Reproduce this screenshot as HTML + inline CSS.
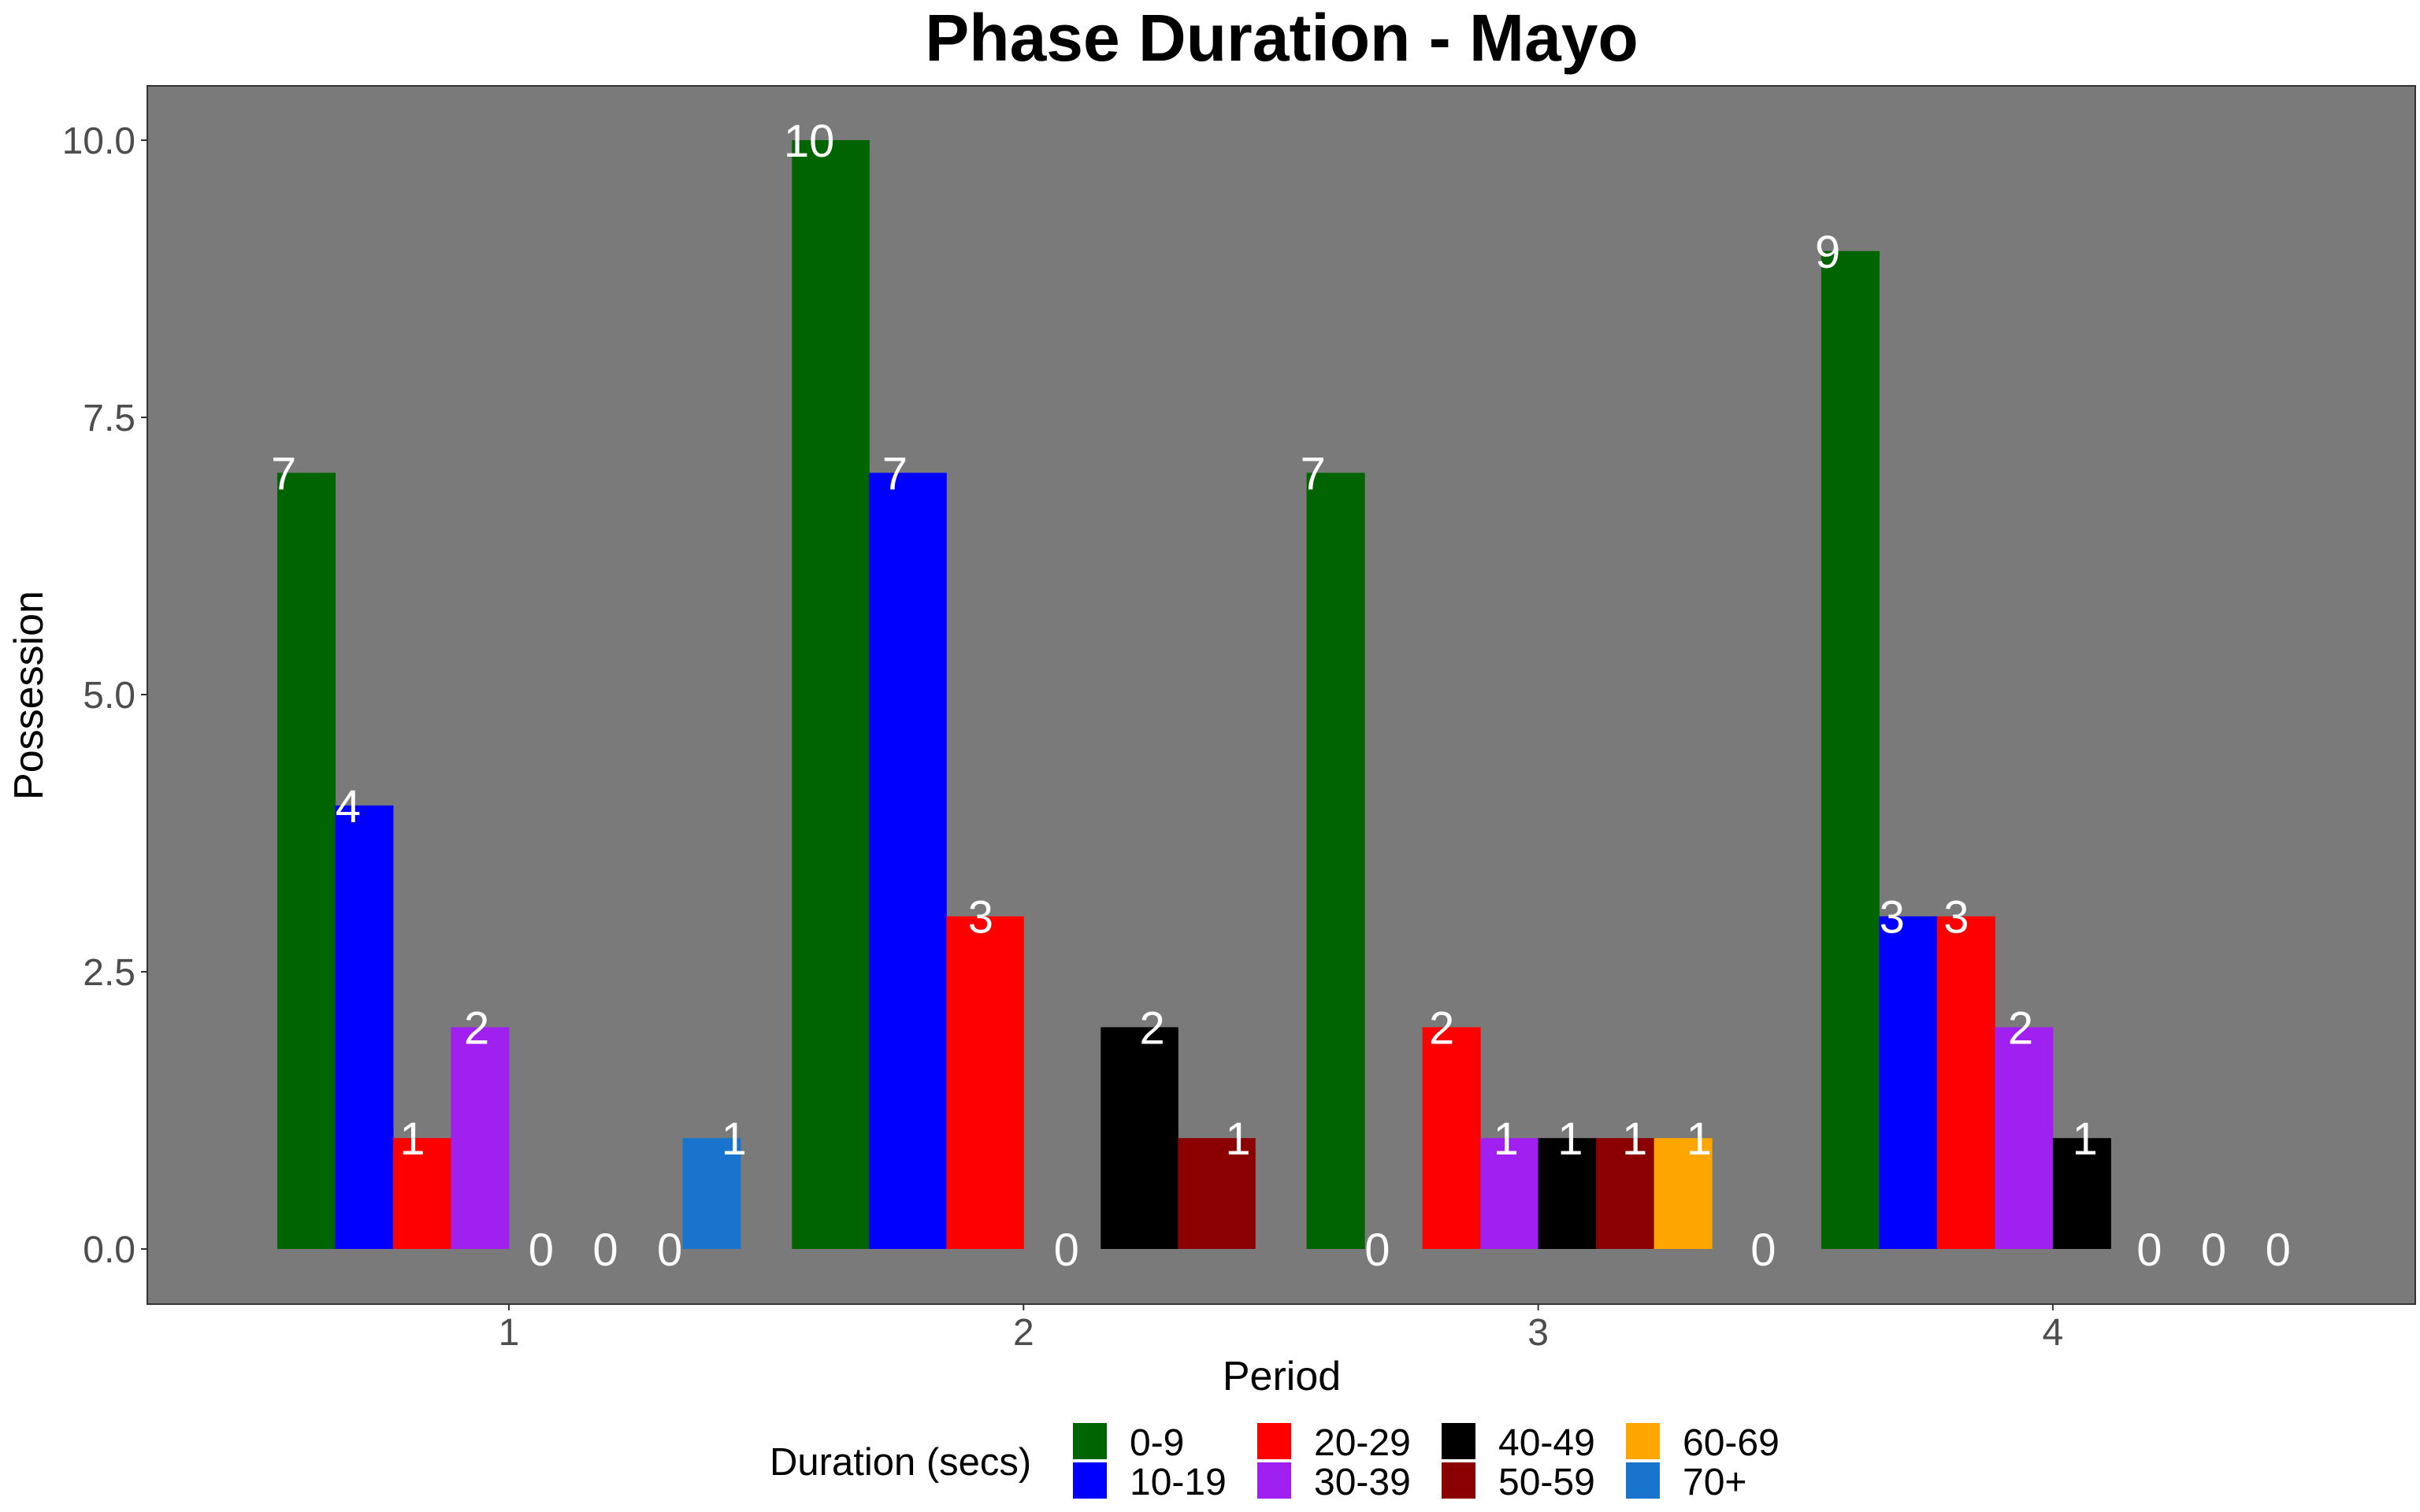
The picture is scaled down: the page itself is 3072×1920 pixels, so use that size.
<!DOCTYPE html>
<html><head><meta charset="utf-8"><style>
html,body{margin:0;padding:0;background:#fff;}
svg{display:block;font-family:"Liberation Sans",Arial,sans-serif;}
</style></head><body>
<svg id="chart" width="3072" height="1920" viewBox="0 0 3072 1920" xmlns="http://www.w3.org/2000/svg">
<rect x="0" y="0" width="3072" height="1920" fill="#fff"/>
<text x="1627" y="77" text-anchor="middle" font-size="84" font-weight="bold" fill="#000">Phase Duration - Mayo</text>
<rect x="187" y="109" width="2879" height="1547" fill="#7a7a7a" stroke="#333" stroke-width="2"/>
<g id="yaxis"></g>
<g id="xaxis"></g>
<g id="bars"></g>
<g id="labels"></g>
<text x="1627" y="1765" text-anchor="middle" font-size="52" fill="#000">Period</text>
<text transform="translate(54,883) rotate(-90)" text-anchor="middle" font-size="52" fill="#000">Possession</text>
<g id="legend">
<text x="977" y="1873" font-size="49" fill="#000">Duration (secs)</text>
</g>
</svg>
<script>
const periods = ["1","2","3","4"];
const durations = ["0-9","10-19","20-29","30-39","40-49","50-59","60-69","70+"];
const colors = ["#006400","#0000ff","#ff0000","#a020f0","#000000","#8b0000","#ffa500","#1874cd"];
// per-period categories present (in order) and their values
const period1Cats = ["0-9","10-19","20-29","30-39","40-49","50-59","60-69","70+"];
const period1Vals = [7,4,1,2,0,0,0,1];
const period2Cats = ["0-9","10-19","20-29","30-39","40-49","50-59"];
const period2Vals = [10,7,3,0,2,1];
const period3Cats = ["0-9","10-19","20-29","30-39","40-49","50-59","60-69","70+"];
const period3Vals = [7,0,2,1,1,1,1,0];
const period4Cats = ["0-9","10-19","20-29","30-39","40-49","50-59","60-69","70+"];
const period4Vals = [9,3,3,2,1,0,0,0];
const yTicks = [0,2.5,5,7.5,10];
const yTickLabels = ["0.0","2.5","5.0","7.5","10.0"];

const NS="http://www.w3.org/2000/svg";
function mk(tag,attrs,parent){const e=document.createElementNS(NS,tag);for(const k in attrs)e.setAttribute(k,attrs[k]);parent.appendChild(e);return e;}
const Y0=1586, PXU=140.8;
function yScale(v){return Y0-v*PXU;}
const X1=646, XSTEP=653.3;
function xScale(i){return X1+i*XSTEP;}

const yg=document.getElementById('yaxis');
yTicks.forEach((t,i)=>{
  const y=yScale(t);
  const l=mk('line',{x1:179,x2:187,y1:y,y2:y,stroke:'#333','stroke-width':2},yg);
  
  
  const tx=mk('text',{x:172,y:y+17,'text-anchor':'end','font-size':48,fill:'#4d4d4d'},yg);
  tx.textContent=yTickLabels[i];
  
  
});
const xg=document.getElementById('xaxis');
periods.forEach((p,i)=>{
  const x=xScale(i);
  const l=mk('line',{x1:x,x2:x,y1:1656,y2:1664,stroke:'#333','stroke-width':2},xg);
  
  
  const tx=mk('text',{x:x,y:1708,'text-anchor':'middle','font-size':48,fill:'#4d4d4d'},xg);
  tx.textContent=p;
  
  
});

const allCats=[period1Cats,period2Cats,period3Cats,period4Cats];
const allVals=[period1Vals,period2Vals,period3Vals,period4Vals];
const bg=document.getElementById('bars'), lg=document.getElementById('labels');
allCats.forEach((cats,pi)=>{
  const n=cats.length, cx=xScale(pi);
  const bw=XSTEP*0.9/n, lw=XSTEP/n;
  cats.forEach((c,j)=>{
    const v=allVals[pi][j];
    const col=colors[durations.indexOf(c)];
    const left=cx-XSTEP*0.45+j*bw;
    if(v>0){
      const r=mk('rect',{x:left,y:yScale(v),width:bw+0.5,height:v*PXU,fill:col},bg);
      
      
    }
    const lx=cx+(j-(n-1)/2)*lw;
    const t=mk('text',{x:lx,y:yScale(v)+21,'text-anchor':'middle','font-size':58,fill:'#fff'},lg);
    t.textContent=String(v);
    
    
  });
});

const leg=document.getElementById('legend');
const keyX=[1362,1596,1830,2064];
durations.forEach((d,i)=>{
  const col=Math.floor(i/2), row=i%2;
  const kx=keyX[col], ky=row===0?1807:1857;
  const r=mk('rect',{x:kx,y:ky,width:43,height:46,fill:colors[i]},leg);
  
  
  const t=mk('text',{x:kx+72,y:ky+41,'font-size':48,fill:'#000'},leg);
  t.textContent=d;
  
  
});
</script>
</body></html>
